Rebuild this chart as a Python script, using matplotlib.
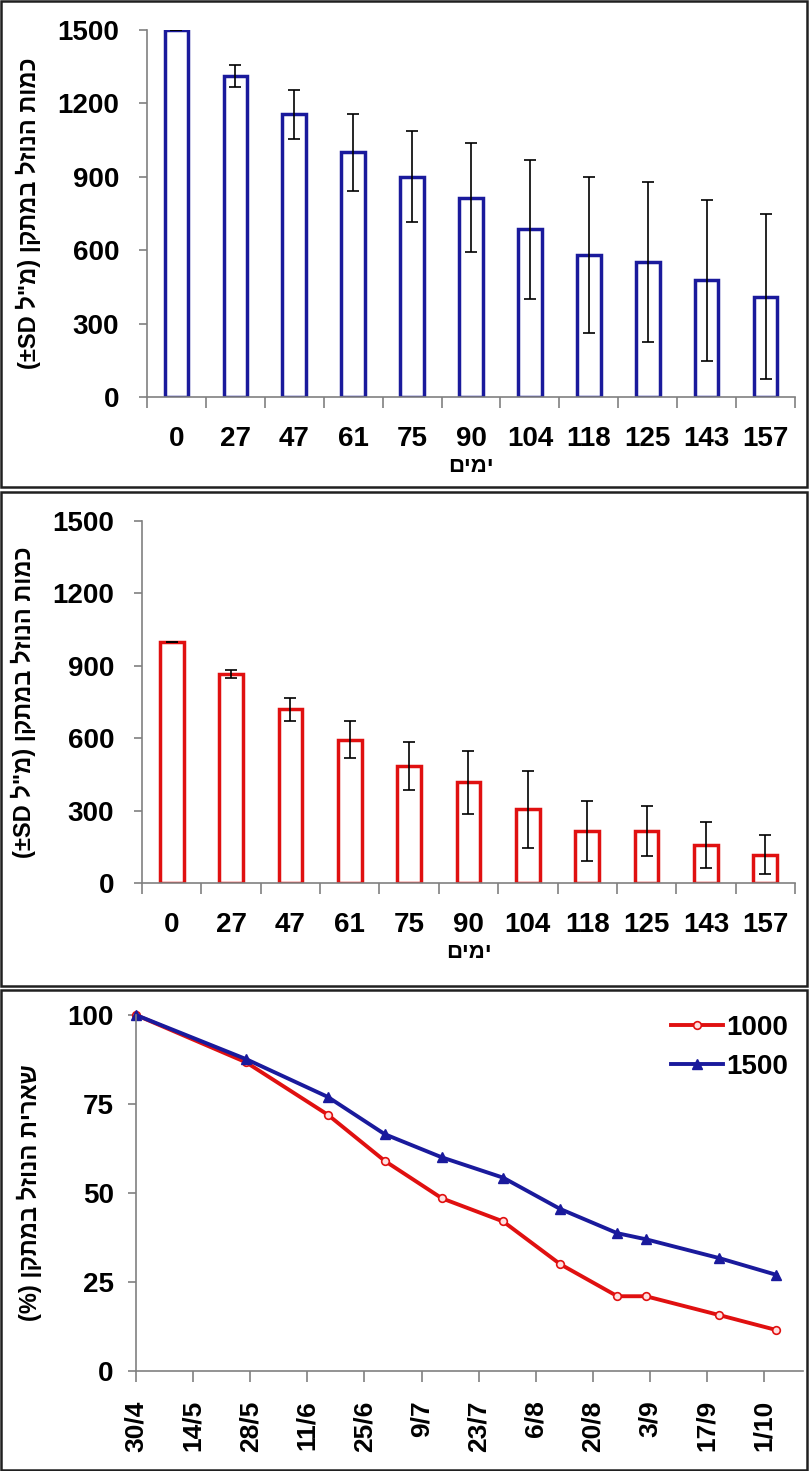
import matplotlib
matplotlib.use("Agg")
import matplotlib.pyplot as plt
from matplotlib.patches import Rectangle

# -----------------------------
# Data
# -----------------------------
days = [0, 27, 47, 61, 75, 90, 104, 118, 125, 143, 157]
day_labels = [str(d) for d in days]

vol_1500 = [1500, 1312, 1155, 1000, 900, 815, 685, 580, 553, 477, 409]
sd_1500 = [0, 45, 100, 158, 186, 222, 283, 320, 327, 330, 337]

vol_1000 = [1000, 867, 720, 594, 485, 417, 305, 215, 215, 159, 117]
sd_1000 = [0, 17, 47, 77, 100, 130, 160, 125, 102, 95, 80]

pct_1000 = [100, 86.7, 72, 59, 48.5, 42, 30, 21, 21, 15.7, 11.5]
pct_1500 = [100, 87.6, 77, 66.5, 60, 54.3, 45.5, 38.7, 37, 31.7, 27]

date_ticks = [0, 14, 28, 42, 56, 70, 84, 98, 112, 126, 140, 154]
date_labels = ["30/4", "14/5", "28/5", "11/6", "25/6", "9/7", "23/7",
               "6/8", "20/8", "3/9", "17/9", "1/10"]

# Hebrew strings in visual order (matplotlib does no bidi)
ylab_vol = '(±SD ל"מ) ןקתמב לזונה תומכ'
xlab_days = "םימי"
ylab_pct = "(%) ןקתמב לזונה תיראש"

plt.rcParams['font.family'] = ['Liberation Sans', 'DejaVu Sans']
plt.rcParams['font.weight'] = 'bold'

W, H = 810, 1471
fig = plt.figure(figsize=(W / 100, H / 100), dpi=100)

BLUE = "#1a1a9c"
RED = "#e01010"
SPINE = "#808080"


def px_axes(left, top, right, bottom):
    """Axes from pixel box (origin top-left)."""
    return fig.add_axes([left / W, 1 - bottom / H, (right - left) / W, (bottom - top) / H])


def style_axes(ax):
    for s in ("top", "right"):
        ax.spines[s].set_visible(False)
    for s in ("left", "bottom"):
        ax.spines[s].set_color(SPINE)
        ax.spines[s].set_linewidth(1.2)
    ax.tick_params(axis="both", which="both", direction="out", color=SPINE,
                   length=6, width=1.2, labelsize=20)
    for lab in ax.get_yticklabels():
        lab.set_fontweight("bold")


def bar_panel(ax, values, sds, color):
    x = range(len(days))
    ax.bar(x, values, width=0.4, facecolor="white", edgecolor=color, linewidth=2.5,
           yerr=sds, capsize=4.5, error_kw=dict(ecolor="black", elinewidth=1.2, capthick=1.2))
    ax.set_xlim(-0.5, len(days) - 0.5)
    ax.set_ylim(0, 1500)
    ax.set_yticks([0, 300, 600, 900, 1200, 1500])
    ax.set_xticks(list(x))
    ax.set_xticklabels(day_labels, fontweight="bold")
    ax.set_xticks([i - 0.5 for i in range(len(days) + 1)], minor=True)
    style_axes(ax)
    ax.tick_params(axis="x", which="major", length=0, pad=21)
    ax.tick_params(axis="x", which="minor", length=8)
    ax.tick_params(axis="y", pad=14)
    ax.set_xlabel(xlab_days, fontsize=16, fontweight="bold", labelpad=3)
    ax.set_ylabel(ylab_vol, fontsize=17, fontweight="bold", labelpad=12)


# Panel 1: 1500 ml
ax1 = px_axes(147, 30, 795, 397)
bar_panel(ax1, vol_1500, sd_1500, BLUE)

# Panel 2: 1000 ml
ax2 = px_axes(142, 521, 795, 883)
bar_panel(ax2, vol_1000, sd_1000, RED)

# Panel 3: percent remaining
ax3 = px_axes(136, 1015, 803, 1371)
ax3.plot(days, pct_1000, color=RED, linewidth=2.8, marker="o", markersize=5.5,
         markerfacecolor="#ffe0e0", markeredgecolor=RED, markeredgewidth=1.2, label="1000",
         clip_on=False)
ax3.plot(days, pct_1500, color=BLUE, linewidth=2.8, marker="^", markersize=7.5,
         markerfacecolor=BLUE, markeredgecolor=BLUE, label="1500", clip_on=False)
ax3.set_xlim(0, 163.5)
ax3.set_ylim(0, 100)
ax3.set_yticks([0, 25, 50, 75, 100])
ax3.set_xticks(date_ticks)
ax3.set_xticklabels(date_labels, rotation=90, fontweight="bold")
style_axes(ax3)
ax3.tick_params(axis="x", labelsize=19, length=8, pad=13)
ax3.tick_params(axis="y", pad=10)
ax3.set_ylabel(ylab_pct, fontsize=17, fontweight="bold", labelpad=18)
leg = ax3.legend(loc="upper right", bbox_to_anchor=(1.015, 1.07), frameon=False,
                 fontsize=20, handlelength=1.9, handletextpad=0.1, labelspacing=0.45)
for t in leg.get_texts():
    t.set_fontweight("bold")

# Panel borders
for top, bottom in [(1, 487), (492, 986), (990, 1470)]:
    fig.add_artist(Rectangle((1 / W, 1 - bottom / H), (807 - 1) / W, (bottom - top) / H,
                             transform=fig.transFigure, fill=False,
                             edgecolor="#202020", linewidth=1.8))

fig.savefig("out.png", dpi=100)
